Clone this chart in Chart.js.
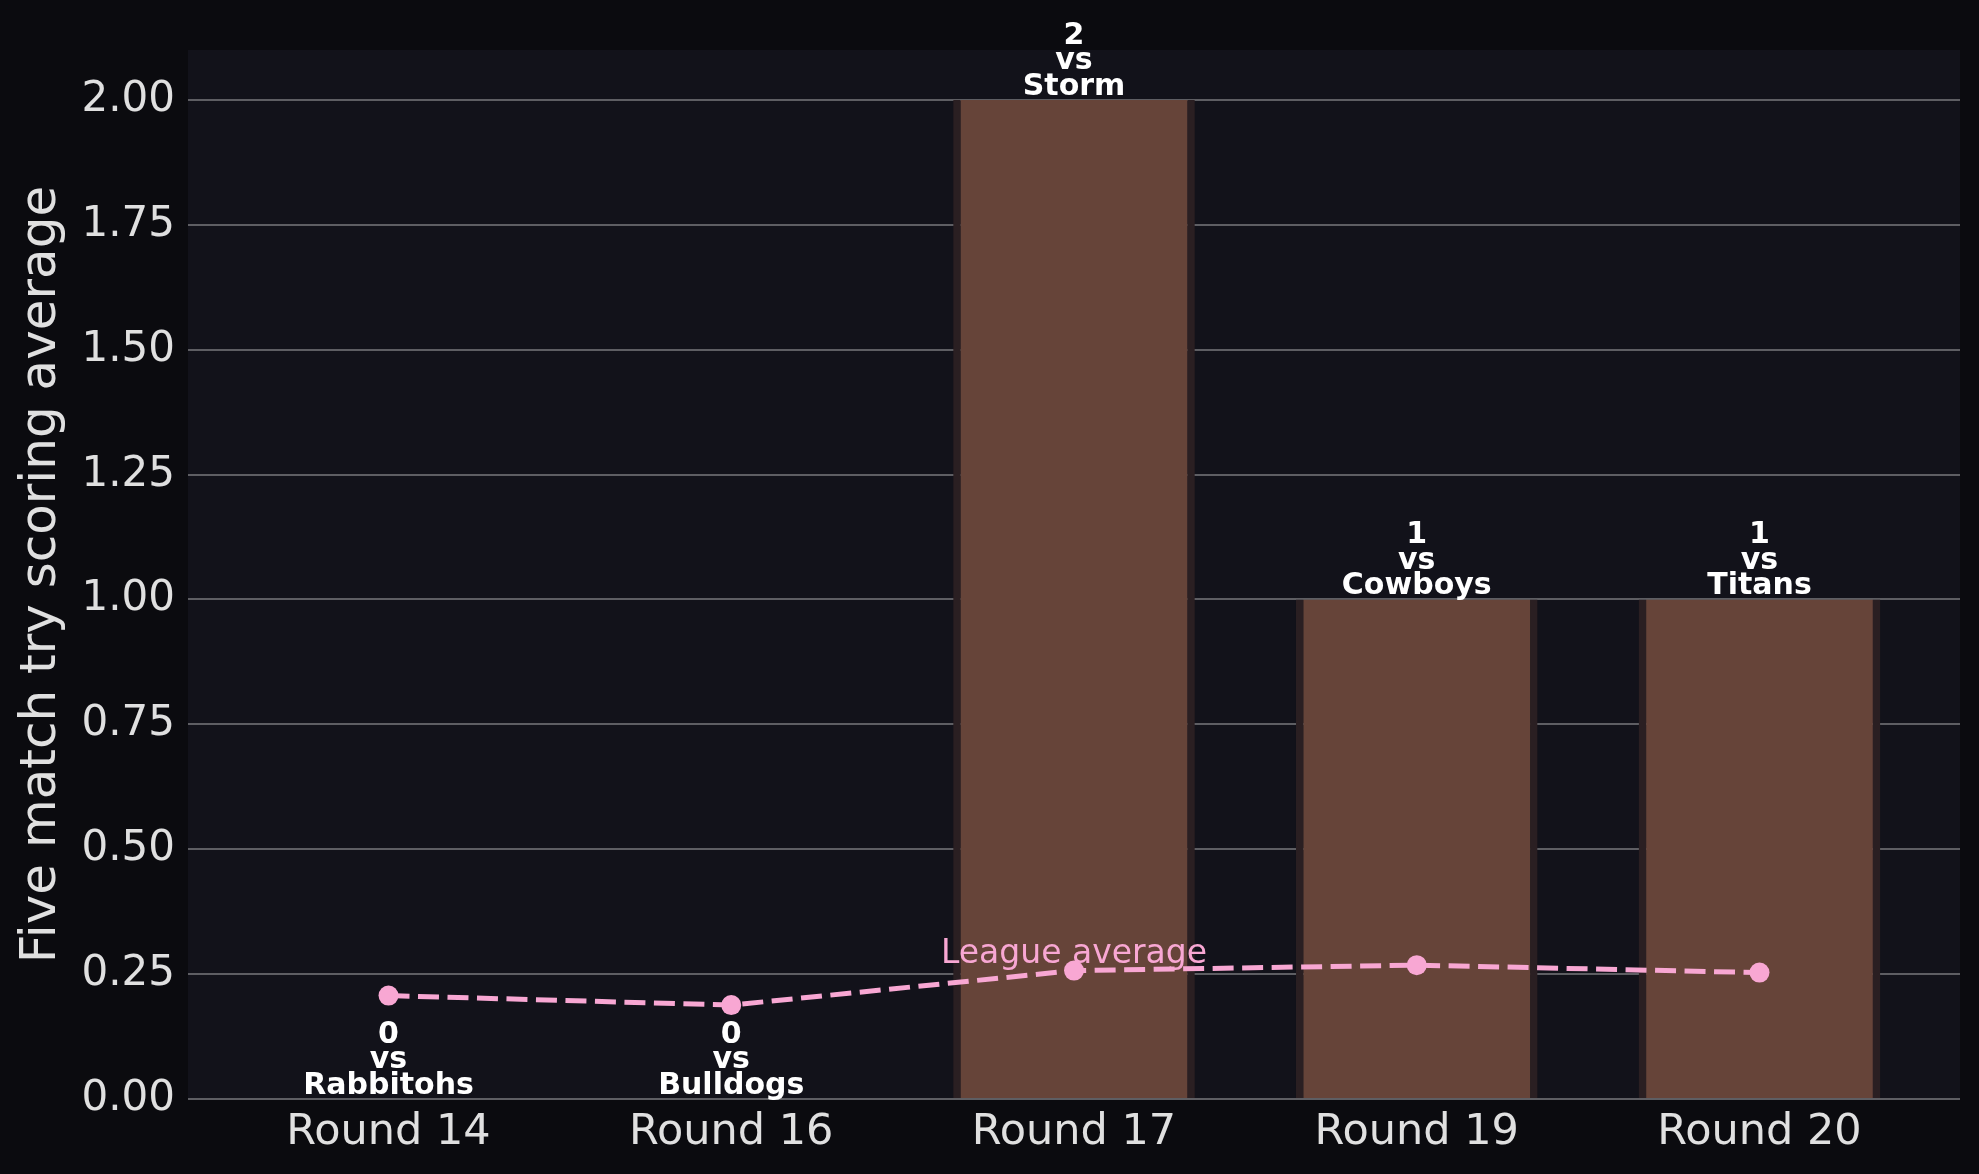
<!DOCTYPE html>
<html>
<head>
<meta charset="utf-8">
<script src="https://cdn.jsdelivr.net/npm/chart.js@4.4.1/dist/chart.umd.min.js"></script>
<style>
  html, body { margin: 0; padding: 0; background: #0b0b0f; }
  #wrap { width: 1979px; height: 1174px; }
</style>
</head>
<body>
<div id="wrap"><canvas id="chart"></canvas></div>
<script>
const rounds = ['Round 14', 'Round 16', 'Round 17', 'Round 19', 'Round 20'];
const opponents = ['Rabbitohs', 'Bulldogs', 'Storm', 'Cowboys', 'Titans'];
const tries = [0, 0, 2, 1, 1];
const leagueAvg = [0.207, 0.188, 0.257, 0.268, 0.253];
const yTicks = [0, 0.25, 0.5, 0.75, 1, 1.25, 1.5, 1.75, 2];

const pink = '#f8a7d3';
const font = 'DejaVu Sans';

// plot area background
const bgPlugin = {
    id: 'bg',
    beforeDraw(chart) {
        const { ctx, chartArea: a } = chart;
        ctx.save();
        ctx.fillStyle = '#12121a';
        ctx.fillRect(a.left, a.top, a.right - a.left, a.bottom - a.top);
        ctx.restore();
    }
};

// text labels above bars and the league average note
const labelPlugin = {
    id: 'labels',
    afterDraw(chart) {
        const { ctx, scales: { x, y } } = chart;
        ctx.save();
        ctx.textAlign = 'center';
        ctx.textBaseline = 'alphabetic';
        ctx.fillStyle = '#ffffff';
        ctx.font = 'bold 30px "' + font + '"';
        tries.forEach((t, i) => {
            const px = x.getPixelForValue(i);
            const py = y.getPixelForValue(t) - 5;
            const lines = [String(t), 'vs', opponents[i]];
            lines.forEach((txt, k) => {
                ctx.fillText(txt, px, py - (lines.length - 1 - k) * 25.7);
            });
        });
        ctx.fillStyle = pink;
        ctx.font = '33px "' + font + '"';
        ctx.fillText('League average', x.getPixelForValue(2), y.getPixelForValue(leagueAvg[2]) - 8);
        ctx.restore();
    }
};

const ctx = document.getElementById('chart').getContext('2d');

new Chart(ctx, {
    type: 'bar',
    data: {
        datasets: [
            {
                type: 'line',
                label: 'League average',
                data: leagueAvg.map((v, i) => ({ x: i, y: v })),
                borderColor: pink,
                borderWidth: 5,
                borderDash: [21, 8.5],
                pointRadius: 10,
                pointBackgroundColor: pink,
                pointBorderWidth: 0,
                tension: 0,
                order: 0
            },
            {
                type: 'bar',
                label: 'Tries',
                data: tries.map((v, i) => ({ x: i, y: v })),
                backgroundColor: '#664439',
                borderColor: '#2a1f22',
                borderWidth: { left: 7.5, right: 7.5, top: 0, bottom: 0 },
                borderSkipped: false,
                barPercentage: 0.705,
                categoryPercentage: 1,
                order: 1
            }
        ]
    },
    options: {
        responsive: true,
        maintainAspectRatio: false,
        animation: false,
        layout: { padding: { top: 50, right: 19, left: 0, bottom: 0 } },
        plugins: {
            legend: { display: false },
            tooltip: { enabled: false }
        },
        scales: {
            x: {
                type: 'linear',
                min: -0.585,
                max: 4.585,
                offset: false,
                afterBuildTicks: (s) => { s.ticks = rounds.map((r, i) => ({ value: i })); },
                afterFit: (s) => { s.height = 75; },
                grid: { display: false, drawTicks: false, offset: false },
                border: { display: false },
                ticks: {
                    callback: (v) => rounds[v] ?? '',
                    color: '#e0e0e0',
                    font: { family: font, size: 43 },
                    padding: 8,
                    maxRotation: 0,
                    autoSkip: false
                }
            },
            y: {
                min: 0,
                max: 2.1,
                afterBuildTicks: (s) => { s.ticks = yTicks.map(v => ({ value: v })); },
                afterFit: (s) => { s.width = 188; },
                grid: { color: '#5e5e63', lineWidth: 2, drawTicks: false },
                border: { display: false },
                ticks: {
                    callback: (v) => v.toFixed(2),
                    color: '#e0e0e0',
                    font: { family: font, size: 42 },
                    padding: 13
                },
                title: {
                    display: true,
                    text: 'Five match try scoring average',
                    color: '#e0e0e0',
                    font: { family: font, size: 50, lineHeight: 1.2 },
                    padding: { top: 12, bottom: 0 }
                }
            }
        }
    },
    plugins: [bgPlugin, labelPlugin]
});
</script>
</body>
</html>
